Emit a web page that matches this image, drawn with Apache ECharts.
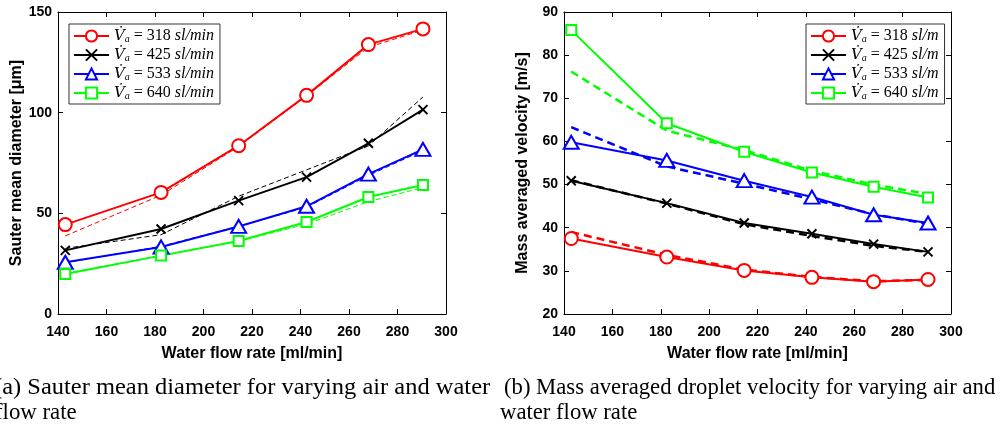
<!DOCTYPE html>
<html>
<head>
<meta charset="utf-8">
<script src="https://cdn.jsdelivr.net/npm/echarts@6/dist/echarts.min.js"></script>
<style>
    html, body { margin: 0; padding: 0; background: #fff; }
    #chart { width: 1001px; height: 429px; }
</style>
</head>
<body>
<div id="chart"></div>
<script>
// water flow rate [ml/min], same for both plots
const flowRate = [143, 182.5, 214.5, 242.5, 268, 290.5]
const airRates = [318, 425, 533, 640]

// (a) sauter mean diameter [um], measured
const d318 = [44.4, 60.4, 83.6, 108.6, 133.8, 141.6]
const d425 = [31.6, 42.2, 56.3, 68.0, 84.8, 101.5]
const d533 = [25.7, 33.3, 43.5, 53.5, 69.5, 81.8]
const d640 = [19.9, 29.0, 36.3, 45.7, 58.1, 64.1]
// (a) fitted (dashed)
const d318fit = [38.8, 59.0, 83.2, 108.3, 132.5, 141.0]
const d425fit = [32.6, 39.4, 58.5, 71.6, 83.5, 107.8]
const d533fit = [25.5, 33.6, 43.6, 53.0, 68.8, 81.2]
const d640fit = [20.2, 29.0, 36.2, 44.6, 55.8, 62.8]

// (b) mass averaged velocity [m/s], measured
const v318 = [37.5, 33.2, 30.1, 28.5, 27.5, 28.0]
const v425 = [50.9, 45.7, 41.1, 38.6, 36.2, 34.4]
const v533 = [59.8, 55.6, 50.9, 47.1, 43.0, 41.1]
const v640 = [85.8, 64.2, 57.6, 52.8, 49.5, 47.0]
// (b) fitted (dashed)
const v318fit = [39.0, 33.7, 30.3, 28.6, 27.6, 27.9]
const v425fit = [51.0, 45.6, 40.8, 38.1, 35.8, 34.4]
const v533fit = [63.3, 54.2, 50.2, 46.6, 43.1, 40.9]
const v640fit = [76.2, 62.5, 58.0, 53.2, 50.0, 47.8]

const xTicks = {min: 140, max: 300, interval: 20}

const colors = ['#ff0000', '#000000', '#0000ff', '#00ff00']
const symbols = ['circle', 'path://M0,0L10,10M10,0L0,10', 'triangle', 'rect']
const symbolSizes = [13, 9, [15, 13], 10]

const toPairs = (ys) => flowRate.map((x, i) => [x, ys[i]])

const tickFont = {fontFamily: 'Liberation Sans', fontWeight: 'bold', fontSize: 14, color: '#000'}
const titleFont = {fontFamily: 'Liberation Sans', fontWeight: 'bold', fontSize: 16, color: '#000'}

/**
 * 坐标轴, MATLAB 风格的四边框
 */
const makeAxes = (gridIndex, yMin, yMax, yInterval, xName, yName) => {
    let axisLine = {show: true, onZero: false, lineStyle: {color: '#000', width: 1}}
    let axisTick = {show: true, inside: true, length: 5, lineStyle: {color: '#000'}}
    let x = [
        {
            type: 'value', gridIndex: gridIndex, position: 'bottom', ...xTicks,
            axisLine, axisTick, splitLine: {show: false},
            axisLabel: {...tickFont, margin: 11},
            name: xName, nameLocation: 'middle', nameGap: 32,
            nameTextStyle: {...titleFont}
        },
        {
            type: 'value', gridIndex: gridIndex, position: 'top', ...xTicks,
            axisLine, axisTick, splitLine: {show: false}, axisLabel: {show: false}
        }
    ]
    let y = [
        {
            type: 'value', gridIndex: gridIndex, position: 'left',
            min: yMin, max: yMax, interval: yInterval,
            axisLine, axisTick, splitLine: {show: false},
            axisLabel: {...tickFont, margin: 6},
            name: yName, nameLocation: 'middle', nameGap: 33, nameRotate: 90,
            nameTextStyle: {...titleFont}
        },
        {
            type: 'value', gridIndex: gridIndex, position: 'right',
            min: yMin, max: yMax, interval: yInterval,
            axisLine, axisTick, splitLine: {show: false}, axisLabel: {show: false}
        }
    ]
    return {x, y}
}

const axesA = makeAxes(0, 0, 150, 50, 'Water flow rate [ml/min]', 'Sauter mean diameter [μm]')
const axesB = makeAxes(1, 20, 90, 10, 'Water flow rate [ml/min]', 'Mass averaged velocity [m/s]')

/**
 * 生成一组曲线: 虚线拟合 + 带标记的实线
 */
const makeSeries = (prefix, axisIndex, measured, fitted, dash, dashWidth) => {
    let out = []
    fitted.forEach((ys, i) => {
        out.push({
            name: prefix + airRates[i] + ' fit',
            type: 'line', xAxisIndex: axisIndex, yAxisIndex: axisIndex,
            data: toPairs(ys), symbol: 'none', silent: true, z: 2,
            lineStyle: {color: colors[i], width: dashWidth, type: dash}
        })
    })
    measured.forEach((ys, i) => {
        out.push({
            name: prefix + airRates[i],
            type: 'line', xAxisIndex: axisIndex, yAxisIndex: axisIndex,
            data: toPairs(ys), z: 3,
            symbol: symbols[i], symbolSize: symbolSizes[i],
            lineStyle: {color: colors[i], width: 2},
            itemStyle: {color: i === 1 ? '#000' : '#fff', borderColor: colors[i], borderWidth: 2},
            emphasis: {disabled: true}
        })
    })
    return out
}

const seriesA = makeSeries('a', 0, [d318, d425, d533, d640], [d318fit, d425fit, d533fit, d640fit], [5, 3], 1)
const seriesB = makeSeries('b', 2, [v318, v425, v533, v640], [v318fit, v425fit, v533fit, v640fit], [8, 5], 2.5)

const legendRich = {
    v: {fontFamily: 'DejaVu Serif', fontStyle: 'italic', fontSize: 15, color: '#000', lineHeight: 16},
    s: {fontFamily: 'Liberation Serif', fontStyle: 'italic', fontSize: 10, color: '#000', verticalAlign: 'bottom', lineHeight: 10},
    n: {fontFamily: 'Liberation Serif', fontSize: 16, color: '#000', lineHeight: 16},
    i: {fontFamily: 'Liberation Serif', fontStyle: 'italic', fontSize: 16, color: '#000', lineHeight: 16}
}

const makeLegend = (prefix, unit, left) => ({
    data: airRates.map(r => prefix + r),
    orient: 'vertical', left: left, top: 24,
    itemWidth: 35, itemHeight: 14, itemGap: 3,
    padding: [4, 6, 3, 4],
    borderColor: '#333', borderWidth: 1, backgroundColor: '#fff',
    selectedMode: false,
    formatter: (name) => '{v|V\u0307}{s|a}{n| = ' + name.slice(1) + ' }{i|' + unit + '}',
    textStyle: {rich: legendRich}
})

const captionFont = '24px "Liberation Serif"'

// 图注, 按参考图宽度横向缩放
const caption = (text, x, y, sx) => ({
    type: 'text', x: x, y: y, scaleX: sx,
    style: {text: text, font: captionFont, fill: '#000', verticalAlign: 'middle'}
})

let chart = echarts.init(document.getElementById('chart'))

let options = {
    animation: false,
    backgroundColor: '#fff',
    grid: [
        {left: 58, right: 555, top: 12, bottom: 115},
        {left: 564, right: 50, top: 12, bottom: 115}
    ],
    xAxis: [...axesA.x, ...axesB.x],
    yAxis: [...axesA.y, ...axesB.y],
    legend: [makeLegend('a', 'sl/min', 69), makeLegend('b', 'sl/m', 806)],
    series: [...seriesA, ...seriesB],
    graphic: [
        caption('(a) Sauter mean diameter for varying air and water', -6, 388, 1.02),
        caption('flow rate', -5, 413, 0.95),
        caption('(b) Mass averaged droplet velocity for varying air and', 504, 388, 0.945),
        caption('water flow rate', 500, 413, 0.945)
    ]
}

chart.setOption(options)
</script>
</body>
</html>
